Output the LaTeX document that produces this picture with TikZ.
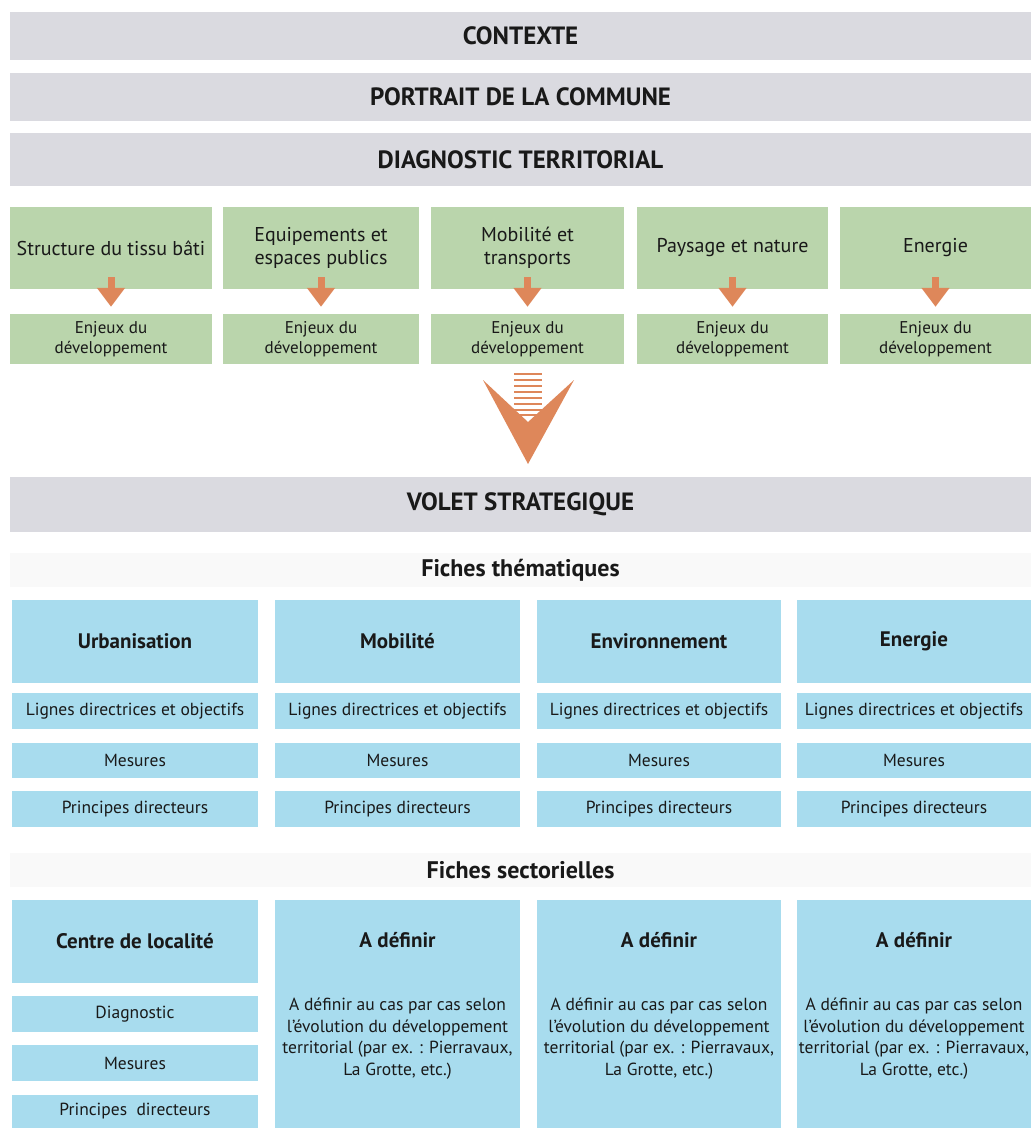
\documentclass[tikz,border=0pt]{standalone}
\usepackage{fontspec}
\setmainfont{PT Sans}
\usetikzlibrary{arrows.meta}

\definecolor{bargrey}{RGB}{218,218,224}
\definecolor{themegreen}{RGB}{186,213,172}
\definecolor{ficheblue}{RGB}{168,220,238}
\definecolor{pilorange}{RGB}{222,135,90}
\definecolor{headfaint}{RGB}{249,249,249}
\definecolor{ink}{RGB}{25,25,25}

\tikzset{
  greybar/.style={fill=bargrey, minimum width=1021pt, inner sep=0pt, text=ink,
    font=\fontsize{25}{28}\selectfont\bfseries},
  faintbar/.style={fill=headfaint, minimum width=1021pt, minimum height=34pt, inner sep=0pt, text=ink,
    font=\fontsize{24}{28}\selectfont\bfseries},
  themebox/.style={fill=themegreen, minimum height=82pt, inner sep=0pt, align=center, text=ink,
    font=\fontsize{20}{23}\selectfont},
  enjeubox/.style={fill=themegreen, minimum height=50pt, inner sep=0pt, align=center, text=ink,
    font=\fontsize{17}{20.5}\selectfont},
  ficherow/.style={fill=ficheblue, minimum height=36pt, inner sep=0pt, align=center, text=ink,
    font=\fontsize{17.5}{20}\selectfont},
  fichetitle/.style={ficherow, minimum height=83pt, font=\fontsize{21}{24}\selectfont\bfseries},
  sectbox/.style={fill=ficheblue, minimum height=228pt, inner sep=0pt},
  secttext/.style={align=center, text=ink, font=\fontsize{17.5}{21.5}\selectfont},
  smallpil/.style={draw=pilorange, line width=7pt, -{Triangle[width=27pt,length=19pt]}},
}

\begin{document}
\begin{tikzpicture}[x=1pt,y=-1pt]
\useasboundingbox (0,0) rectangle (1031,1128);

% bandeaux gris
\node[greybar, minimum height=48pt] (contexte) at (520.5,36) {CONTEXTE};
\node[greybar, minimum height=48pt] (portrait) at (520.5,97) {PORTRAIT DE LA COMMUNE};
\node[greybar, minimum height=53pt] (diag) at (520.5,159.5) {DIAGNOSTIC TERRITORIAL};

% diagnostic: themes
\node[themebox, minimum width=202pt] (th1) at (111,248) {Structure du tissu bâti};
\node[themebox, minimum width=196pt] (th2) at (321,248) {Equipements et\\espaces publics};
\node[themebox, minimum width=193pt] (th3) at (527.5,248) {Mobilité et\\transports};
\node[themebox, minimum width=191pt] (th4) at (732.5,248) {Paysage et nature};
\node[themebox, minimum width=191pt] (th5) at (935.5,248) {Energie};

% enjeux
\node[enjeubox, minimum width=202pt] (en1) at (111,339) {Enjeux du\\développement};
\node[enjeubox, minimum width=196pt] (en2) at (321,339) {Enjeux du\\développement};
\node[enjeubox, minimum width=193pt] (en3) at (527.5,339) {Enjeux du\\développement};
\node[enjeubox, minimum width=191pt] (en4) at (732.5,339) {Enjeux du\\développement};
\node[enjeubox, minimum width=191pt] (en5) at (935.5,339) {Enjeux du\\développement};

\foreach \i in {1,...,5}
  \draw[smallpil] ([yshift=12pt]th\i.south) -- ([yshift=7pt]en\i.north);

% grande fleche
\fill[pilorange] (483,380) -- (528,464) -- (574,380) -- (528,422) -- cycle;
\foreach \yy in {374,380,...,410}
  \draw[pilorange, line width=2.2pt] (514,\yy) -- (542,\yy);
\draw[pilorange, line width=2.2pt] (519,415) -- (537,415);

\node[greybar, minimum height=55pt] (volet) at (520.5,504.5) {VOLET STRATEGIQUE};

% fiches thematiques
\node[faintbar] (fthem) at (520.5,570) {Fiches thématiques};

\node[fichetitle, minimum width=246pt] (ft1) at (135,641.5) {Urbanisation};
\node[fichetitle, minimum width=245pt] (ft2) at (397.5,641.5) {Mobilité};
\node[fichetitle, minimum width=244pt] (ft3) at (659,641.5) {Environnement};
\node[fichetitle, minimum width=234pt] (ft4) at (914,641.5) {Energie};

\foreach \i/\x/\w in {1/135/246, 2/397.5/245, 3/659/244, 4/914/234} {
  \node[ficherow, minimum width=\w pt] (fl\i) at (\x,711) {Lignes directrices et objectifs};
  \node[ficherow, minimum width=\w pt, minimum height=35pt] (fm\i) at (\x,760.5) {Mesures};
  \node[ficherow, minimum width=\w pt] (fp\i) at (\x,809) {Principes directeurs};
}

% fiches sectorielles
\node[faintbar] (fsect) at (520.5,870) {Fiches sectorielles};

\node[fichetitle, minimum width=246pt] (cl) at (135,941.5) {Centre de localité};
\node[ficherow, minimum width=246pt] (cld) at (135,1014) {Diagnostic};
\node[ficherow, minimum width=246pt] (clm) at (135,1063) {Mesures};
\node[ficherow, minimum width=246pt, minimum height=33pt] (clp) at (135,1111.5) {Principes\ \ directeurs};

\foreach \i/\x/\w in {2/397.5/245, 3/659/244, 4/914/234} {
  \node[sectbox, minimum width=\w pt] (sb\i) at (\x,1014) {};
  \node[secttext, font=\fontsize{21}{24}\selectfont\bfseries] (sbt\i) at (\x,940) {A définir};
  \node[secttext] (sbx\i) at (\x,1038.5) {A définir au cas par cas selon\\l'évolution du développement\\territorial (par ex. : Pierravaux,\\La Grotte, etc.)};
}

\end{tikzpicture}
\end{document}
